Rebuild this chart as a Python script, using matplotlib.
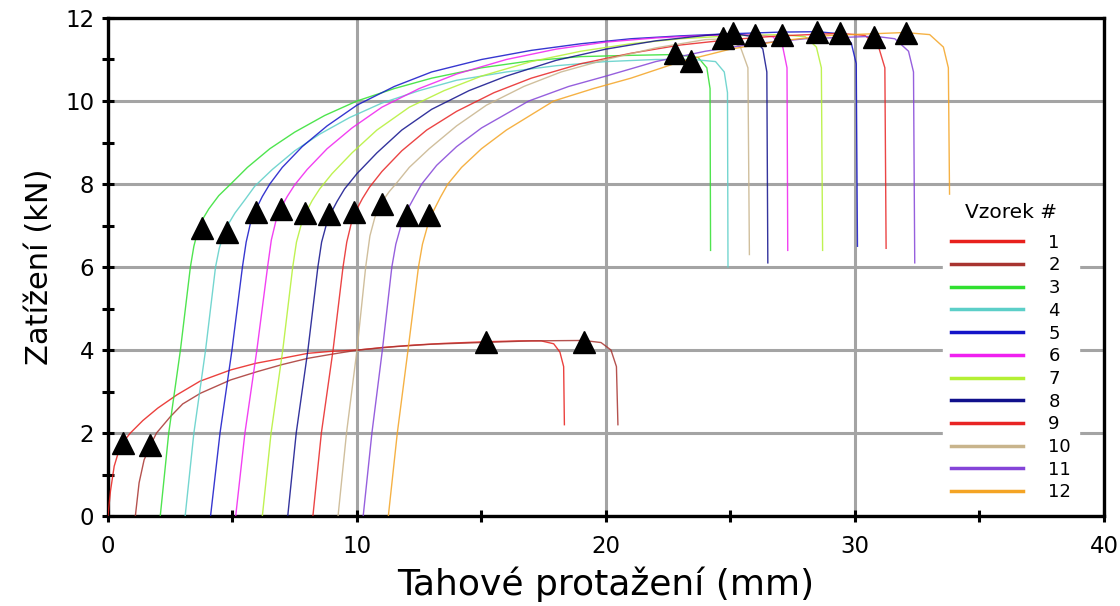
import matplotlib.pyplot as plt
from matplotlib.ticker import MultipleLocator

# sample colours (legend order 1..12)
colors = ['#e8201c', '#a83430', '#30e030', '#5ccfc8', '#1414c8', '#f020f0',
          '#b4f034', '#10108c', '#e82424', '#c8b48c', '#8444d8', '#f4a424']
labels = [str(i) for i in range(1, 13)]

# elongation (mm) / load (kN)
x1 = [0, 0.1, 0.25, 0.45, 0.7, 0.9, 1.4, 2.0, 2.77, 3.7, 4.93, 5.94, 7.0, 8.03, 9.0,
      10.05, 11.0, 12.3, 13.5, 15.2, 16.5, 17.4, 17.9, 18.15, 18.3, 18.33]
y1 = [0, 0.6, 1.2, 1.6, 1.85, 2.0, 2.3, 2.6, 2.92, 3.25, 3.52, 3.68, 3.8, 3.92, 3.97,
      4.0, 4.06, 4.12, 4.16, 4.2, 4.22, 4.22, 4.15, 3.95, 3.6, 2.2]
x2 = [1.1, 1.25, 1.45, 1.7, 1.95, 2.5, 3.0, 3.72, 4.93, 6.0, 7.0, 8.03, 9.0, 10.05,
      11.5, 13.0, 15.0, 17.0, 19.1, 19.8, 20.2, 20.42, 20.48]
y2 = [0, 0.8, 1.35, 1.7, 2.0, 2.39, 2.7, 2.96, 3.28, 3.48, 3.65, 3.8, 3.9, 4.0,
      4.08, 4.14, 4.18, 4.22, 4.23, 4.18, 4.0, 3.6, 2.2]
x3 = [2.10, 2.44, 2.91, 3.31, 3.45, 3.60, 3.80, 4.05, 4.45, 4.93, 5.6, 6.5, 7.5, 8.7,
      10.0, 11.5, 13.0, 15.0, 17.0, 19.0, 21.0, 22.8, 23.7, 24.05, 24.18, 24.2]
y3 = [0, 2, 4, 6, 6.5, 6.85, 7.15, 7.4, 7.72, 8.0, 8.4, 8.85, 9.25, 9.65,
      10.0, 10.3, 10.55, 10.8, 10.97, 11.07, 11.1, 11.12, 11.05, 10.8, 10.3, 6.4]
x4 = [3.1, 3.45, 3.92, 4.32, 4.47, 4.65, 4.85, 5.1, 5.5, 5.9, 6.6, 7.5, 8.5, 9.7,
      11.0, 12.5, 14.0, 16.0, 18.0, 20.0, 22.0, 23.5, 24.4, 24.75, 24.88, 24.9]
y4 = [0, 2, 4, 6, 6.45, 6.8, 7.05, 7.3, 7.62, 7.95, 8.35, 8.8, 9.2, 9.6,
      9.95, 10.25, 10.5, 10.7, 10.85, 10.95, 11.0, 11.0, 10.95, 10.7, 10.2, 6.0]
x5 = [4.12, 4.5, 4.98, 5.4, 5.55, 5.72, 5.95, 6.2, 6.5, 7.0, 7.8, 8.8, 10.0, 11.5,
      13.0, 15.0, 17.0, 19.0, 21.0, 23.0, 25.0, 27.0, 28.5, 29.4, 29.85, 30.05, 30.1]
y5 = [0, 2, 4, 6, 6.6, 7.05, 7.4, 7.7, 8.0, 8.4, 8.9, 9.4, 9.9, 10.35,
      10.7, 11.0, 11.22, 11.38, 11.5, 11.57, 11.62, 11.66, 11.67, 11.62, 11.4, 10.9, 6.5]
x6 = [5.13, 5.5, 5.98, 6.41, 6.56, 6.74, 6.97, 7.2, 7.5, 8.0, 8.8, 9.8, 11.0, 12.5,
      14.0, 16.0, 18.0, 20.0, 22.0, 24.0, 26.0, 26.7, 27.1, 27.27, 27.3]
y6 = [0, 2, 4, 6, 6.65, 7.1, 7.45, 7.7, 7.98, 8.35, 8.85, 9.35, 9.85, 10.3,
      10.65, 11.0, 11.25, 11.42, 11.52, 11.58, 11.6, 11.55, 11.3, 10.8, 6.4]
x7 = [6.2, 6.55, 7.02, 7.42, 7.57, 7.75, 7.98, 8.2, 8.5, 9.0, 9.8, 10.8, 12.1, 13.5,
      15.0, 17.0, 19.0, 21.0, 23.0, 25.0, 27.0, 28.0, 28.45, 28.65, 28.7]
y7 = [0, 2, 4, 6, 6.6, 7.0, 7.35, 7.6, 7.88, 8.25, 8.75, 9.3, 9.85, 10.25,
      10.6, 10.95, 11.2, 11.38, 11.5, 11.57, 11.6, 11.55, 11.3, 10.8, 6.4]
x8 = [7.22, 7.56, 8.03, 8.43, 8.58, 8.76, 8.98, 9.2, 9.5, 10.0, 10.8, 11.8, 13.0,
      14.5, 16.0, 18.0, 20.0, 22.0, 24.0, 25.1, 25.9, 26.3, 26.46, 26.5]
y8 = [0, 2, 4, 6, 6.6, 7.0, 7.33, 7.58, 7.88, 8.25, 8.75, 9.3, 9.8,
      10.25, 10.6, 10.98, 11.25, 11.45, 11.58, 11.63, 11.55, 11.25, 10.7, 6.1]
x9 = [8.23, 8.57, 9.04, 9.44, 9.59, 9.77, 10.0, 10.22, 10.5, 11.0, 11.8, 12.8, 14.0,
      15.5, 17.0, 19.0, 21.0, 23.0, 25.0, 27.0, 29.4, 30.4, 30.95, 31.2, 31.25]
y9 = [0, 2, 4, 6, 6.6, 7.05, 7.4, 7.65, 7.92, 8.3, 8.8, 9.3, 9.75,
      10.2, 10.55, 10.9, 11.15, 11.35, 11.48, 11.57, 11.63, 11.58, 11.3, 10.8, 6.45]
x10 = [9.24, 9.58, 10.0, 10.35, 10.52, 10.72, 10.98, 11.3, 11.6, 12.1, 12.9, 14.0,
       15.2, 16.7, 18.2, 20.0, 22.0, 24.0, 24.9, 25.4, 25.7, 25.76]
y10 = [0, 2, 4, 6, 6.75, 7.2, 7.55, 7.82, 8.03, 8.4, 8.85, 9.4,
       9.9, 10.35, 10.7, 11.0, 11.28, 11.48, 11.5, 11.3, 10.8, 6.3]
x11 = [10.25, 10.6, 11.02, 11.4, 11.56, 11.76, 12.0, 12.3, 12.6, 13.2, 14.0, 15.0,
       16.9, 18.5, 20.0, 22.0, 24.0, 26.0, 28.0, 30.8, 31.6, 32.15, 32.35, 32.4]
y11 = [0, 2, 4, 6, 6.55, 6.98, 7.35, 7.68, 8.0, 8.45, 8.9, 9.35,
       10.0, 10.35, 10.6, 10.95, 11.2, 11.38, 11.5, 11.56, 11.5, 11.2, 10.7, 6.1]
x12 = [11.26, 11.62, 12.05, 12.47, 12.63, 12.83, 13.07, 13.35, 13.65, 14.2, 15.0,
       16.0, 17.9, 19.5, 21.0, 23.0, 25.0, 27.0, 29.0, 32.0, 33.0, 33.55, 33.75, 33.8]
y12 = [0, 2, 4, 6, 6.55, 6.98, 7.35, 7.68, 8.0, 8.4, 8.85,
       9.3, 10.0, 10.3, 10.55, 10.95, 11.25, 11.45, 11.58, 11.65, 11.6, 11.3, 10.8, 7.6]

xs = [x1, x2, x3, x4, x5, x6, x7, x8, x9, x10, x11, x12]
ys = [y1, y2, y3, y4, y5, y6, y7, y8, y9, y10, y11, y12]

# marked points (yield and maximum load)
tri_x = [0.6, 1.7, 3.76, 4.77, 5.94, 6.95, 7.9, 8.86, 9.9, 11.0, 12.0, 12.9,
         15.2, 19.1, 22.77, 23.4, 24.7, 25.1, 25.97, 27.08, 28.46, 29.4, 30.76, 32.06]
tri_y = [1.75, 1.7, 6.94, 6.84, 7.33, 7.40, 7.3, 7.27, 7.33, 7.52, 7.25, 7.25,
         4.19, 4.19, 11.15, 10.97, 11.51, 11.65, 11.6, 11.6, 11.67, 11.65, 11.55, 11.65]

fig = plt.figure(figsize=(11.2, 6.06), dpi=100)
ax = fig.add_axes([0.0964, 0.1485, 0.8893, 0.8218])

for x, y, c, lab in zip(xs, ys, colors, labels):
    ax.plot(x, y, color=c, lw=1.0, alpha=0.85, label=lab, zorder=3)

ax.plot(tri_x, tri_y, linestyle='none', marker='^', color='black',
        markersize=16, zorder=5)

ax.set_xlim(0, 40)
ax.set_ylim(0, 12)
ax.xaxis.set_major_locator(MultipleLocator(10))
ax.xaxis.set_minor_locator(MultipleLocator(5))
ax.yaxis.set_major_locator(MultipleLocator(2))
ax.yaxis.set_minor_locator(MultipleLocator(1))
ax.grid(True, which='major', color='#a4a4a4', lw=2.2, zorder=1)
for s in ax.spines.values():
    s.set_linewidth(2.4)
    s.set_color('black')
ax.tick_params(which='both', direction='inout', length=8, width=2.2,
               labelsize=16.5)
ax.tick_params(axis='x', pad=10)
ax.tick_params(axis='y', pad=6)

ax.set_xlabel('Tahové protažení (mm)', fontsize=26, labelpad=6)
ax.set_ylabel('Zatížení (kN)', fontsize=22, labelpad=8)

leg = ax.legend(title='Vzorek #', loc='upper left', bbox_to_anchor=(0.838, 0.645),
                borderaxespad=0, fontsize=13, title_fontsize=14.5, frameon=True,
                fancybox=False, edgecolor='white', framealpha=1,
                handlelength=4.0, handletextpad=1.4, labelspacing=0.26,
                borderpad=0.45)
leg._legend_box.sep = 8.5  # a bit more room under the title
leg.set_zorder(10)
for h in leg.get_lines():
    h.set_linewidth(2.5)
    h.set_alpha(1)

fig.savefig('out.png', dpi=100)
